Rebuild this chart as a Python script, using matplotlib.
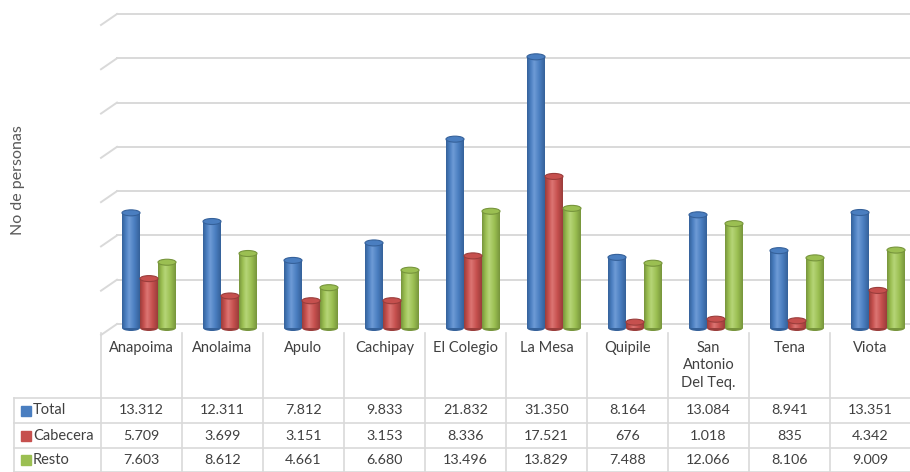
import numpy as np
import matplotlib
matplotlib.use("Agg")
import matplotlib.pyplot as plt
from matplotlib.colors import LinearSegmentedColormap
from matplotlib.patches import Ellipse

# data
municipios = ['Anapoima', 'Anolaima', 'Apulo', 'Cachipay', 'El Colegio', 'La Mesa',
              'Quipile', 'San\nAntonio\nDel Teq.', 'Tena', 'Viota']
series = ['Total', 'Cabecera', 'Resto']
total = [13312, 12311, 7812, 9833, 21832, 31350, 8164, 13084, 8941, 13351]
cabecera = [5709, 3699, 3151, 3153, 8336, 17521, 676, 1018, 835, 4342]
resto = [7603, 8612, 4661, 6680, 13496, 13829, 7488, 12066, 8106, 9009]

colors = ['#4A7EC0', '#C6504E', '#9BBF52']
darks = ['#35619A', '#9A3D3B', '#77953C']
lights = ['#6E9BD6', '#DC7573', '#B6D577']

plt.rcParams['font.family'] = ['Lato', 'DejaVu Sans']
txt_color = '#404040'
grid_color = '#D9D9D9'

W, H = 910, 472
fig = plt.figure(figsize=(W / 100, H / 100), dpi=100)


def fx(px):
    return px / W


def fy(py):
    return 1 - py / H


x_left, x_right = 101, 911
ymax = 35000
n = len(municipios)

# back wall gridlines: 0 at y=324 px, 35000 at y=14 px
y_floor, y_top = 324, 14
gax = fig.add_axes([fx(x_left), fy(y_floor), fx(x_right - x_left), (y_floor - y_top) / H])
gax.set_xlim(-0.5, n - 0.5)
gax.set_ylim(0, ymax)
gax.axis('off')
px_x = 1 / 81.0
gpx_y = ymax / (y_floor - y_top)
depth_x, depth_y = 16 * px_x, 11 * gpx_y
for g in range(0, ymax + 1, 5000):
    gax.plot([-0.5 + depth_x, n - 0.5], [g, g], color=grid_color, lw=1.4, clip_on=False)
    gax.plot([-0.5, -0.5 + depth_x], [g - depth_y, g], color=grid_color, lw=1.4,
             clip_on=False)

# bars stand a little in front of the wall: base at y=328 px, 8.65 px per 1000
b_floor = 328
b_top = b_floor - ymax * 0.00865
ax = fig.add_axes([fx(x_left), fy(b_floor), fx(x_right - x_left), (b_floor - b_top) / H])
ax.set_xlim(-0.5, n - 0.5)
ax.set_ylim(0, ymax)
ax.axis('off')
bpx_y = ymax / (b_floor - b_top)

x = np.arange(n)
bw = 18 * px_x
offsets = [-10.5 * px_x, 7.5 * px_x, 25.5 * px_x]
cap_h = 6 * bpx_y
grad = np.linspace(0, 1, 64).reshape(1, -1)
for vals, c, d, l, off in zip([total, cabecera, resto], colors, darks, lights, offsets):
    cmap = LinearSegmentedColormap.from_list(
        'cyl', [(0, d), (0.2, c), (0.4, l), (0.7, c), (1, d)])
    bars = ax.bar(x + off, vals, width=bw, color=c, edgecolor='none', zorder=3)
    for b, v in zip(bars, vals):
        x0 = b.get_x()
        im = ax.imshow(grad, extent=[x0, x0 + bw, 0, v], aspect='auto', cmap=cmap,
                       zorder=3.5, interpolation='bilinear')
        im.set_clip_path(b)
        ax.add_patch(Ellipse((x0 + bw / 2, 0), bw, cap_h, facecolor=d,
                             edgecolor='none', zorder=3.2, clip_on=False))
        ax.add_patch(Ellipse((x0 + bw / 2, v), bw, cap_h, facecolor=c,
                             edgecolor=d, lw=0.8, zorder=4, clip_on=False))
ax.set_xlim(-0.5, n - 0.5)
ax.set_ylim(0, ymax)

# overlay for the data table, in pixel coordinates
tab = fig.add_axes([0, 0, 1, 1], zorder=-1)
tab.set_xlim(0, W)
tab.set_ylim(H, 0)
tab.axis('off')

col_w = 81
col_edges = [x_left + i * col_w for i in range(n + 1)]
row_edges = [398, 423, 448, 472]
line_kw = dict(color=grid_color, lw=1.2)

for xe in col_edges:
    tab.plot([xe, xe], [333, H], **line_kw)
tab.plot([14, 14], [row_edges[0], H], **line_kw)
for ye in row_edges:
    tab.plot([14, x_right], [ye, ye], **line_kw)

for i, name in enumerate(municipios):
    cx = x_left + (i + 0.5) * col_w
    tab.text(cx, 341, name, ha='center', va='top', fontsize=10.5, color=txt_color,
             linespacing=1.3)

for r, (name, vals, c) in enumerate(zip(series, [total, cabecera, resto], colors)):
    cy = (row_edges[r] + row_edges[r + 1]) / 2
    tab.add_patch(plt.Rectangle((21, cy - 5), 10, 10, color=c))
    tab.text(33, cy, name, ha='left', va='center', fontsize=10.5, color=txt_color)
    for i, v in enumerate(vals):
        cx = x_left + (i + 0.5) * col_w
        tab.text(cx, cy, f'{v:,}'.replace(',', '.'), ha='center', va='center',
                 fontsize=10.3, color=txt_color)

fig.text(fx(18), fy(180), 'No de personas', rotation=90, ha='center', va='center',
         fontsize=11.5, color='#595959')

fig.savefig('out.png', dpi=100, facecolor='white')
